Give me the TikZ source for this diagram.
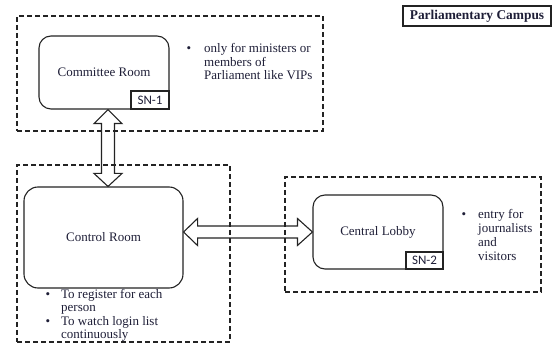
\documentclass[tikz,border=0pt]{standalone}
\usepackage{fontspec}
\setmainfont{Liberation Serif}
\newfontfamily\snfont{Carlito}
\usetikzlibrary{calc}
\definecolor{txt}{RGB}{30,30,55}
\definecolor{ln}{RGB}{35,35,35}
\begin{document}
\begin{tikzpicture}[x=1pt,y=-1pt,
  zone/.style={draw=ln, line width=1.2pt, dash pattern=on 5pt off 3pt, inner sep=0pt},
  room/.style={draw=ln, line width=1.1pt, rounded corners=12pt, inner sep=0pt, text=txt, font=\fontsize{13}{14}\selectfont},
  tag/.style={draw=ln, line width=1.1pt, fill=white, inner sep=0pt, text=txt, font=\snfont\fontsize{13}{14}\selectfont},
  note/.style={inner sep=0pt, anchor=base west, text=txt},
  dot/.style={inner sep=0pt, anchor=base, text=txt, font=\fontsize{13}{13}\selectfont},
  dblarrow/.style={draw=ln, line width=1.1pt, line join=miter}]
\useasboundingbox (0,0) rectangle (554,344);

% zones
\node[zone, minimum width=306pt, minimum height=115pt] (ztop) at (170,73.5) {};
\node[zone, minimum width=213pt, minimum height=177pt] (zctl) at (123.5,253.5) {};
\node[zone, minimum width=256pt, minimum height=115pt] (zlob) at (413,234.5) {};

% title
\node[draw=ln, line width=1.3pt, minimum width=148pt, minimum height=20pt, inner sep=0pt,
      text=txt, font=\bfseries\fontsize{13.4}{14}\selectfont] (title) at (477,16) {Parliamentary Campus};

% rooms
\node[room, minimum width=130pt, minimum height=73pt] (cmt) at (104,72.5) {Committee Room};
\node[tag, minimum width=38pt, minimum height=18pt, anchor=south east] (sn1) at (cmt.south east) {SN-1};

\node[room, rounded corners=14pt, minimum width=159pt, minimum height=101pt] (crm) at (103.5,237.5) {Control Room};

\node[room, minimum width=130pt, minimum height=74pt] (clb) at (378,232) {Central Lobby};
\node[tag, minimum width=37pt, minimum height=17pt, anchor=south east] (sn2) at (clb.south east) {SN-2};

% notes
\node[dot] (b1) at (189,53) {\textbullet};
\node[note, font=\fontsize{13}{13}\selectfont] (n1) at (204,53)
  {\begin{tabular}[t]{@{}l@{}}only for ministers or\\members of\\Parliament like VIPs\end{tabular}};

\node[dot] (b2) at (464,219) {\textbullet};
\node[note, font=\fontsize{13}{14}\selectfont] (n2) at (478,219)
  {\begin{tabular}[t]{@{}l@{}}entry for\\journalists\\and\\visitors\end{tabular}};

\node[dot] (b3) at (48,299) {\textbullet};
\node[note, font=\fontsize{13}{13}\selectfont] (n3) at (61,299)
  {\begin{tabular}[t]{@{}l@{}}To register for each\\person\end{tabular}};
\node[dot] (b4) at (48,326) {\textbullet};
\node[note, font=\fontsize{13}{13}\selectfont] (n4) at (61,326)
  {\begin{tabular}[t]{@{}l@{}}To watch login list\\continuously\end{tabular}};

% vertical double arrow
\coordinate (va) at ($(cmt.south)+(4,0)$);
\coordinate (vb) at (va |- crm.north);
\draw[dblarrow] (va) -- ($(va)+(14,14)$) -- ($(va)+(6.5,14)$) -- ($(vb)+(6.5,-13)$)
  -- ($(vb)+(14,-13)$) -- (vb) -- ($(vb)+(-14,-13)$) -- ($(vb)+(-6.5,-13)$)
  -- ($(va)+(-6.5,14)$) -- ($(va)+(-14,14)$) -- cycle;

% horizontal double arrow
\coordinate (ha) at (crm.east |- clb.west);
\coordinate (hb) at (clb.west);
\draw[dblarrow] (ha) -- ($(ha)+(14,-13.5)$) -- ($(ha)+(14,-6)$) -- ($(hb)+(-15,-6)$)
  -- ($(hb)+(-15,-13.5)$) -- (hb) -- ($(hb)+(-15,13.5)$) -- ($(hb)+(-15,6)$)
  -- ($(ha)+(14,6)$) -- ($(ha)+(14,13.5)$) -- cycle;
\end{tikzpicture}
\end{document}
